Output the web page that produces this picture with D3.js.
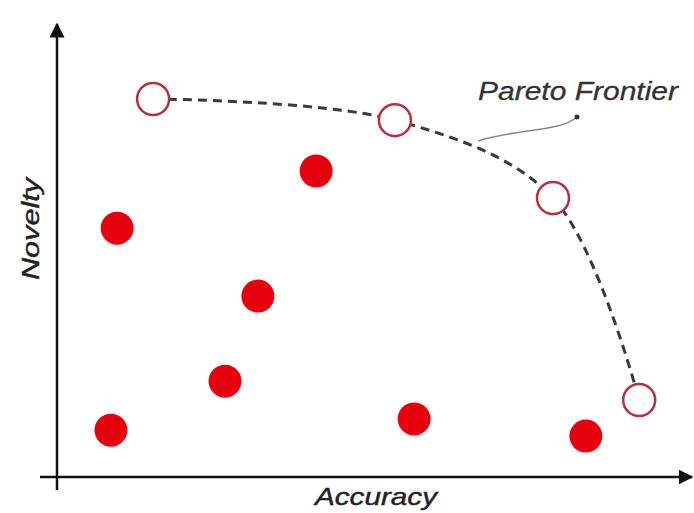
<!DOCTYPE html>
<html>
<head>
<meta charset="utf-8">
<script src="https://cdn.jsdelivr.net/npm/d3@7"></script>
<style>
  html, body { margin: 0; padding: 0; background: #fff; }
  svg { display: block; }
</style>
</head>
<body>
<svg id="chart" width="694" height="513"></svg>
<script>
// Pareto-optimal models (hollow) and dominated models (solid), in accuracy / novelty space
const frontierAccuracy = [15.5, 54.5, 80.0, 93.9];
const frontierNovelty  = [84.0, 79.3, 62.0, 17.1];

const otherAccuracy = [9.7, 41.8, 32.4, 27.1, 8.7, 57.6, 85.3];
const otherNovelty  = [55.3, 68.0, 40.2, 21.3, 10.4, 12.9, 9.1];

const xLabel = "Accuracy";
const yLabel = "Novelty";
const frontierLabel = "Pareto Frontier";

const svg = d3.select("#chart");
const font = "Liberation Sans, Arial, sans-serif";

const x = d3.scaleLinear().domain([0, 100]).range([57, 677]);
const y = d3.scaleLinear().domain([0, 100]).range([477, 27]);

// arrow marker for the axes
svg.append("defs").append("marker")
  .attr("id", "arrow")
  .attr("viewBox", "0 0 10 10")
  .attr("refX", 9).attr("refY", 5)
  .attr("markerWidth", 6).attr("markerHeight", 6)
  .attr("markerUnits", "strokeWidth")
  .attr("orient", "auto")
  .append("path")
  .attr("d", "M0,0 L10,5 L0,10 z")
  .attr("fill", "#111");

// axes
svg.append("line")
  .attr("x1", 40).attr("y1", y(0))
  .attr("x2", 692).attr("y2", y(0))
  .attr("stroke", "#111").attr("stroke-width", 2.5)
  .attr("marker-end", "url(#arrow)");
svg.append("line")
  .attr("x1", x(0)).attr("y1", 490)
  .attr("x2", x(0)).attr("y2", 24)
  .attr("stroke", "#111").attr("stroke-width", 2.5)
  .attr("marker-end", "url(#arrow)");

// axis titles
svg.append("text")
  .attr("x", 315).attr("y", 505)
  .attr("font-family", font)
  .attr("font-style", "italic")
  .attr("font-size", 24)
  .attr("textLength", 122)
  .attr("lengthAdjust", "spacingAndGlyphs")
  .attr("fill", "#222")
  .attr("stroke", "#222").attr("stroke-width", 0.4)
  .text(xLabel);
svg.append("text")
  .attr("transform", "translate(39,280) rotate(-90)")
  .attr("font-family", font)
  .attr("font-style", "italic")
  .attr("font-size", 24)
  .attr("textLength", 102)
  .attr("lengthAdjust", "spacingAndGlyphs")
  .attr("fill", "#222")
  .attr("stroke", "#222").attr("stroke-width", 0.4)
  .text(yLabel);

// frontier curve through the Pareto points
const frontier = frontierAccuracy.map((a, i) => [a, frontierNovelty[i]]);
const curve = d3.line()
  .x(d => x(d[0])).y(d => y(d[1]))
  .curve(d3.curveCatmullRom.alpha(0.5));
svg.append("path")
  .attr("d", curve(frontier))
  .attr("fill", "none")
  .attr("stroke", "#3a3a3a")
  .attr("stroke-width", 3)
  .attr("stroke-dasharray", "9,6");

// leader line from the label to the curve
svg.append("path")
  .attr("d", "M577,117 C560,132 520,128 478,141")
  .attr("fill", "none")
  .attr("stroke", "#888")
  .attr("stroke-width", 1.5);
svg.append("circle")
  .attr("cx", 577).attr("cy", 117).attr("r", 2.5)
  .attr("fill", "#333");

svg.append("text")
  .attr("x", 478).attr("y", 100)
  .attr("font-family", font)
  .attr("font-style", "italic")
  .attr("font-size", 26)
  .attr("textLength", 200)
  .attr("lengthAdjust", "spacingAndGlyphs")
  .attr("fill", "#333")
  .attr("stroke", "#333").attr("stroke-width", 0.3)
  .text(frontierLabel);

// dominated points
const others = otherAccuracy.map((a, i) => [a, otherNovelty[i]]);
svg.selectAll("circle.other")
  .data(others)
  .enter().append("circle")
  .attr("class", "other")
  .attr("cx", d => x(d[0])).attr("cy", d => y(d[1]))
  .attr("r", 16.5)
  .attr("fill", "#e6000e");

// Pareto points
svg.selectAll("circle.front")
  .data(frontier)
  .enter().append("circle")
  .attr("class", "front")
  .attr("cx", d => x(d[0])).attr("cy", d => y(d[1]))
  .attr("r", 16)
  .attr("fill", "#fff")
  .attr("stroke", "#b8303f")
  .attr("stroke-width", 2.5);
</script>
</body>
</html>
